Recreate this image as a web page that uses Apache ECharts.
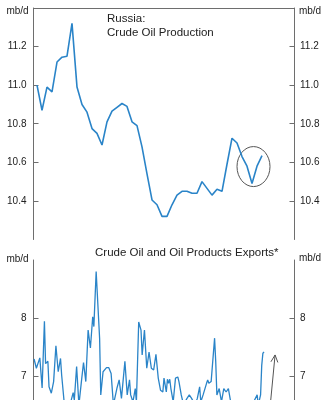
<!DOCTYPE html>
<html><head><meta charset="utf-8">
<script src="https://cdn.jsdelivr.net/npm/echarts@6/dist/echarts.min.js"></script>
<style>html,body{margin:0;padding:0;background:#fff}#c{width:324px;height:400px}</style>
</head><body><div id="c"></div>
<script>
// Top panel: Russia crude oil production, monthly, mb/d
const productionValues = [11.00,10.87,10.99,10.965,11.12,11.145,11.15,11.32,10.99,10.90,10.86,10.775,10.75,10.69,10.81,10.865,10.885,10.905,10.89,10.81,10.79,10.68,10.54,10.405,10.38,10.32,10.32,10.38,10.43,10.45,10.45,10.44,10.44,10.50,10.465,10.43,10.46,10.45,10.59,10.725,10.70,10.63,10.58,10.49,10.58,10.635];
const productionTicks = [10.4,10.6,10.8,11.0,11.2];

// Bottom panel: crude oil and oil products exports, weekly, mb/d
const exportWeeks  = [0,2,5,7,9,10,12,13,15,17,19,21,23,24,26,28,30,34,35,37,39,41,43,45,47,49,51,52,54,55,57,58,60,63,65,67,69,72,74,76,79,81,83,84,86,88,89,91,93,94,96,98,100,102,104,106,108,109,110,112,113,115,116,117,118,119,121,123,125,126,128,130,133,135,137,140,142,144,145,147,150,151,152,154,157,158,159,161,163,165,167,169,171,174,177,181,184,188,191,194,195,197,198,199,200];
const exportValues = [7.29,7.13,7.31,6.79,7.94,7.21,7.25,6.81,6.70,6.90,7.52,7.07,7.30,7.01,6.58,6.32,6.40,6.71,6.58,7.16,6.50,6.87,7.23,6.90,7.79,7.48,8.02,7.85,8.80,8.83,7.65,6.67,7.07,7.14,7.14,7.04,6.50,6.78,6.93,6.61,7.25,6.67,6.93,6.67,6.55,6.78,6.55,7.93,7.79,7.36,7.79,7.13,7.41,7.13,7.10,7.37,6.96,6.98,6.75,6.72,6.96,6.72,6.94,6.87,6.94,6.78,6.55,6.96,6.98,6.90,6.67,6.50,6.61,6.67,6.61,6.50,6.61,6.81,6.55,6.67,6.87,6.93,6.87,6.90,7.65,7.24,6.67,6.78,6.55,6.78,6.72,6.78,6.55,6.40,6.45,6.35,6.45,6.40,6.55,6.67,6.50,6.67,7.18,7.39,7.41];
const exportTicks = [6,7,8];

// Annotations (data units)
const circleCenter = [43.3, 10.578];
const arrowFrom = [202.5, 5.89];
const arrowTo = [209.6, 7.36];

const FONT = "'Liberation Sans', Arial, sans-serif";
const AXIS_COLOR = '#6e6e6e';
const LINE_COLOR = '#2a84c8';

function yAx(gridIndex, pos, min, max, ticks, fmt) {
  return {
    type: 'value', gridIndex, position: pos, min, max,
    axisLine: {show: true, onZero: false, lineStyle: {color: AXIS_COLOR, width: 1}},
    axisTick: {show: true, inside: true, length: 5, customValues: ticks, lineStyle: {color: AXIS_COLOR}},
    axisLabel: {customValues: ticks, color: '#222', fontSize: 10, fontFamily: FONT,
      margin: pos === 'left' ? 7 : 5.5, formatter: fmt},
    splitLine: {show: false}
  };
}

const chart = echarts.init(document.getElementById('c'), null, {renderer: 'canvas'});
const fmt1 = v => Number(v).toFixed(1);
const fmt0 = v => String(Math.round(v));

chart.setOption({
  animation: false,
  backgroundColor: '#fff',
  grid: [
    {left: 33.5, right: 29.5, top: 8, height: 231.5, outerBoundsMode: 'none', containLabel: false},
    {left: 33.5, right: 29.5, top: 260, height: 231.6, outerBoundsMode: 'none', containLabel: false}
  ],
  xAxis: [
    {type: 'value', gridIndex: 0, position: 'top', min: -0.7, max: 51.5,
     axisLine: {show: true, onZero: false, lineStyle: {color: AXIS_COLOR, width: 1}},
     axisTick: {show: false}, axisLabel: {show: false}, splitLine: {show: false}},
    {type: 'value', gridIndex: 1, min: -0.5, max: 226.5, show: false}
  ],
  yAxis: [
    yAx(0, 'left', 10.2, 11.4, productionTicks, fmt1),
    yAx(0, 'right', 10.2, 11.4, productionTicks, fmt1),
    yAx(1, 'left', 5, 9, exportTicks, fmt0),
    yAx(1, 'right', 5, 9, exportTicks, fmt0)
  ],
  series: [
    {type: 'line', xAxisIndex: 0, yAxisIndex: 0, symbol: 'none',
     lineStyle: {color: LINE_COLOR, width: 1.6},
     data: productionValues.map((v, i) => [i, v])},
    {type: 'line', xAxisIndex: 1, yAxisIndex: 2, symbol: 'none',
     lineStyle: {color: LINE_COLOR, width: 1.3},
     data: exportWeeks.map((w, i) => [w, exportValues[i]])}
  ]
});

const c = chart.convertToPixel({xAxisIndex: 0, yAxisIndex: 0}, circleCenter);
const a0 = chart.convertToPixel({xAxisIndex: 1, yAxisIndex: 2}, arrowFrom);
const a1 = chart.convertToPixel({xAxisIndex: 1, yAxisIndex: 2}, arrowTo);
const dx = a1[0] - a0[0], dy = a1[1] - a0[1], len = Math.hypot(dx, dy);
const ux = dx / len, uy = dy / len, hl = 8, ang = 0.45;
function rot(x, y, t) { return [x * Math.cos(t) - y * Math.sin(t), x * Math.sin(t) + y * Math.cos(t)]; }
const w1 = rot(-ux, -uy, ang), w2 = rot(-ux, -uy, -ang);

const txt = (x, y, text, align, size) => ({
  type: 'text', x, y, silent: true,
  style: {text, fill: '#222', font: (size || 10) + 'px ' + FONT, align: align || 'center', verticalAlign: 'middle'}
});

chart.setOption({
  graphic: [
    txt(17.5, 11, 'mb/d'), txt(310, 11, 'mb/d'),
    txt(17.5, 259.3, 'mb/d'), txt(310, 258.5, 'mb/d'),
    txt(107, 19.3, 'Russia:', 'left', 11.5),
    txt(107, 33, 'Crude Oil Production', 'left', 11.5),
    txt(95, 252.5, 'Crude Oil and Oil Products Exports*', 'left', 11.5),
    {type: 'ellipse', shape: {cx: c[0], cy: c[1], rx: 16.5, ry: 20}, silent: true,
     style: {fill: 'none', stroke: '#555', lineWidth: 1}},
    {type: 'line', shape: {x1: a0[0], y1: a0[1], x2: a1[0], y2: a1[1]}, silent: true,
     style: {stroke: '#555', lineWidth: 1}},
    {type: 'polyline', silent: true,
     shape: {points: [[a1[0] + w1[0] * hl, a1[1] + w1[1] * hl], [a1[0], a1[1]], [a1[0] + w2[0] * hl, a1[1] + w2[1] * hl]]},
     style: {stroke: '#555', lineWidth: 1, fill: 'none'}}
  ]
});
</script>
</body></html>
